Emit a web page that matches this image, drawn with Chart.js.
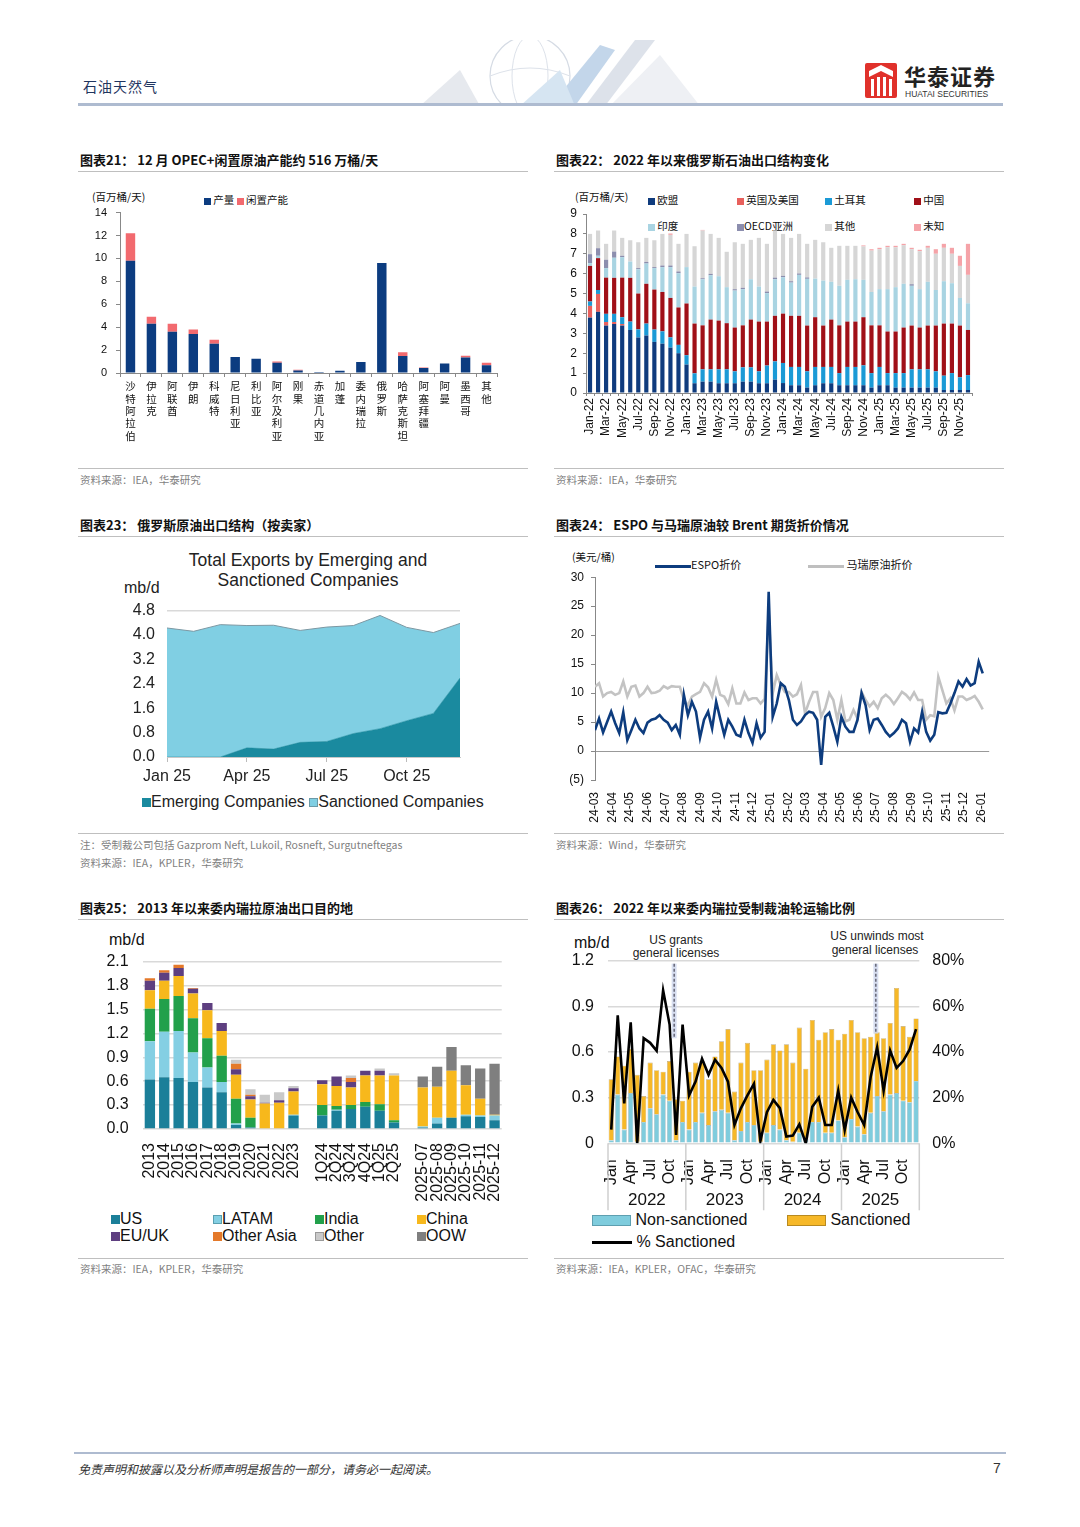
<!DOCTYPE html>
<html><head><meta charset="utf-8">
<script src="https://cdn.jsdelivr.net/npm/chart.js@4.4.1/dist/chart.umd.min.js"></script>
<style>
body{margin:0;background:#fff;}
#page{position:relative;width:1080px;height:1527px;background:#fff;overflow:hidden;font-family:"Liberation Sans",Arial,"Noto Sans CJK SC",sans-serif;}
.tx{position:absolute;white-space:nowrap;line-height:20px;height:20px;}
.ln{position:absolute;}
canvas{position:absolute;}
.sw{display:inline-block;vertical-align:middle;}
</style></head>
<body><div id="page">
<svg style="position:absolute;left:400px;top:40px" width="400" height="66">
  <circle cx="130" cy="36" r="40" fill="none" stroke="#d5dbe4" stroke-width="1.2"/>
  <ellipse cx="130" cy="36" rx="18" ry="40" fill="none" stroke="#dde2ea" stroke-width="1"/>
  <path d="M90 36 Q130 20 170 36" fill="none" stroke="#dde2ea"/>
  <polygon points="20,66 60,30 80,66" fill="#e6e9ee"/>
  <polygon points="150,66 200,5 215,10 175,66" fill="#c3d6ea"/>
  <polygon points="185,66 235,0 255,0 205,66" fill="#dde2ea"/>
  <polygon points="210,66 260,15 300,66" fill="#eef0f4"/>
  <polygon points="120,66 160,30 175,66" fill="#d6e5f2"/>
</svg>
<svg style="position:absolute;left:865px;top:63px" width="32" height="35">
  <rect x="0" y="0" width="32" height="35" rx="2" fill="#E0312B"/>
  <path d="M4 8 L16 2 L28 8 L28 14 L16 8 L4 14Z" fill="#fff"/>
  <rect x="6" y="16" width="3" height="17" fill="#fff"/><rect x="12" y="14" width="3" height="19" fill="#fff"/>
  <rect x="18" y="14" width="3" height="19" fill="#fff"/><rect x="24" y="16" width="3" height="17" fill="#fff"/>
</svg>
</div>
<script>
// ---------------- DATA ----------------
const cats21 = ['沙特阿拉伯','伊拉克','阿联酋','伊朗','科威特','尼日利亚','利比亚','阿尔及利亚','刚果','赤道几内亚','加蓬','委内瑞拉','俄罗斯','哈萨克斯坦','阿塞拜疆','阿曼','墨西哥','其他'];
const prod21 = [9.8,4.3,3.6,3.4,2.55,1.4,1.25,0.9,0.22,0.09,0.2,0.96,9.6,1.48,0.44,0.82,1.35,0.68];
const spare21 = [2.4,0.6,0.7,0.4,0.35,0,0,0.1,0.07,0,0,0,0,0.33,0.03,0,0.15,0.22];
const ticks21 = [0,2,4,6,8,10,12,14];

const monthNames22 = ['Jan','Feb','Mar','Apr','May','Jun','Jul','Aug','Sep','Oct','Nov','Dec'];
const years22 = ['22','23','24','25'];
const eu22 = [3.79,4.08,3.39,3.47,3.39,3.17,2.79,2.89,2.57,2.48,2.28,2.0, 1.43,0.49,0.57,0.57,0.49,0.49,0.49,0.57,0.57,0.49,0.49,0.67, 0.5,0.39,0.39,0.27,0.39,0.49,0.49,0.39,0.39,0.39,0.39,0.27, 0.39,0.39,0.27,0.27,0.27,0.27,0.27,0.27,0.15,0.15,0.15,0.15];
const ukus22 = [0.59,0.9,0.18,0.1,0.08,0,0,0,0,0,0,0, 0,0,0,0,0,0,0,0,0,0,0,0, 0,0,0,0,0,0,0,0,0,0,0,0, 0,0,0,0,0,0,0,0,0,0,0,0];
const tr22 = [0.22,0.2,0.41,0.41,0.34,0.42,0.41,0.6,0.62,0.62,0.52,0.42, 0.47,0.5,0.62,0.62,0.7,0.7,0.6,0.72,0.72,0.6,0.89,0.92, 1.01,0.92,0.92,0.82,0.92,0.82,0.82,0.61,0.92,0.92,1.0,0.73, 0.92,0.61,0.73,0.73,0.92,0.92,0.92,0.82,0.72,0.85,0.64,0.75];
const cn22 = [1.79,1.6,1.82,1.81,1.99,2.2,1.8,2.0,2.01,1.98,1.98,1.88, 2.6,2.5,2.21,2.5,2.45,2.32,2.2,2.11,2.4,2.5,2.21,2.29, 2.48,2.57,2.57,2.3,2.5,2.08,2.38,2.4,2.28,2.28,2.42,2.4, 2.09,2.09,2.09,2.29,2.2,2.1,2.2,2.3,2.62,2.49,2.6,2.27];
const in22 = [0.14,0.12,0.48,1.01,1.03,0.82,1.22,1.02,1.08,1.25,1.55,1.72, 1.83,1.86,2.32,2.23,2.23,1.81,1.86,1.82,2.03,1.76,1.43,1.84, 1.83,1.67,2.06,2.35,1.94,2.26,1.9,1.99,2.1,2.13,1.88,1.68, 1.82,2.13,2.23,2.2,2.0,1.93,2.2,1.79,2.13,2.03,1.39,1.34];
const oecd22 = [0.45,0.38,0.42,0.31,0.07,0,0.06,0.08,0.05,0.08,0.08,0.09, 0,0,0.05,0.07,0,0,0.07,0.07,0,0,0.08,0.08, 0.07,0.07,0.07,0.07,0,0,0,0,0,0,0,0, 0,0,0,0,0.08,0,0,0,0,0,0,0];
const other22 = [1.02,0.89,0.8,1.06,0.9,1.07,1.3,1.21,1.35,1.59,1.54,1.39, 1.67,2.03,2.4,2.01,1.93,1.78,2.36,2.21,1.98,2.45,2.4,2.38, 2.11,2.18,1.99,1.69,1.95,1.93,1.71,2.01,1.71,1.68,1.68,2.08, 2.01,2.11,2.01,1.94,1.76,1.91,1.71,1.82,1.68,1.48,1.61,1.43];
const unk22 = [0,0,0,0,0,0,0,0,0,0,0.07,0, 0,0,0.03,0,0,0,0,0,0,0,0,0, 0,0,0,0,0,0,0,0,0,0,0.05,0.07, 0.07,0.07,0.07,0.07,0.07,0.07,0.1,0.23,0.2,0.3,0.51,1.56];
const ticks22 = [0,1,2,3,4,5,6,7,8,9];

const months23 = ['Jan 25','Feb 25','Mar 25','Apr 25','May 25','Jun 25','Jul 25','Aug 25','Sep 25','Oct 25','Nov 25','Dec 25'];
const emerging23 = [0,0,0,0.3,0.26,0.48,0.51,0.77,0.93,1.19,1.43,2.59];
const sanctioned23 = [4.23,4.12,4.34,4.01,4.06,3.67,3.75,3.54,3.71,3.06,2.65,1.79];
const ticks23 = [0,0.8,1.6,2.4,3.2,4.0,4.8];

const months24 = ['24-03','24-04','24-05','24-06','24-07','24-08','24-09','24-10','24-11','24-12','25-01','25-02','25-03','25-04','25-05','25-06','25-07','25-08','25-09','25-10','25-11','25-12','26-01'];
const espo24 = [3.6,5.6,3.2,5.0,6.8,4.8,3.1,6.7,1.9,3.6,5.4,3.9,3.1,4.9,5.4,5.6,6.2,5.4,4.9,3.6,4.5,2.8,9.7,6.2,8.5,6.8,2.3,5.4,6.8,3.9,8.5,5.6,2.8,5.4,4.2,2.8,2.5,5.4,3.1,1.4,4.8,2.3,3.3,27.5,5.9,8.2,11.7,11.1,8.8,5.4,4.5,5.1,6.2,6.8,6.6,5.4,-2.4,5.9,6.6,4.2,1.6,5.9,4.2,3.3,3.3,5.4,10.0,7.9,3.6,5.4,5.6,4.5,3.3,2.5,3.1,3.9,5.4,4.8,1.6,3.9,3.2,6.8,3.3,1.8,2.8,6.7,6.5,6.6,8.2,10.0,12.0,11.1,12.4,11.3,11.7,15.4,13.4];
const mari24 = [11.1,11.7,9.4,10,10.2,9.7,10,12,9.4,11.1,11.3,9.4,10,11.1,10,10.1,10.4,11.2,10.8,11.2,11.1,11.1,8.8,7.9,9.4,9.8,10.2,11.7,11,9.4,12.3,9.7,9.4,8.1,10.8,8.2,8.2,10.1,8.8,9.1,9.1,8.2,9.0,23.8,10.0,13.1,11.4,10.2,10.2,9.4,9.8,11.4,6.5,8.5,10.2,10.2,5.9,7.4,10,8.8,5.4,8.8,5.1,5.4,7.1,5.6,10.2,8.8,7.7,8.5,7.4,9.1,9.7,9.1,8.1,9.1,10.2,9.7,8.9,10.1,8.8,8.8,5.4,6.2,6.0,12.8,10.5,8.2,9.1,7.0,9.4,9.4,8.8,9.1,9.5,8.5,7.2];
const ticks24 = [-5,0,5,10,15,20,25,30];

const cats25 = ['2013','2014','2015','2016','2017','2018','2019','2020','2021','2022','2023','','1Q24','2Q24','3Q24','4Q24','1Q25','2Q25','','2025-07','2025-08','2025-09','2025-10','2025-11','2025-12'];
const us25 = [0.62,0.65,0.64,0.59,0.52,0.46,0.05,0.02,0.01,0.01,0.17,null,0.17,0.23,0.25,0.28,0.23,0.08,null,0.02,0.07,0.14,0.16,0.15,0.11];
const latam25 = [0.48,0.57,0.59,0.37,0.25,0.13,0.02,0,0,0,0.01,null,0,0.01,0,0,0,0,null,0.01,0.07,0,0.02,0.02,0.06];
const india25 = [0.41,0.41,0.44,0.43,0.37,0.33,0.31,0.12,0,0,0,null,0.13,0.05,0.05,0.06,0.08,0.03,null,0,0,0,0,0,0];
const china25 = [0.23,0.23,0.25,0.31,0.35,0.31,0.30,0.23,0.31,0.32,0.29,null,0.26,0.25,0.22,0.33,0.36,0.56,null,0.49,0.39,0.59,0.37,0.21,0.01];
const euuk25 = [0.12,0.10,0.10,0.06,0.09,0.10,0.07,0.04,0.01,0.03,0.04,null,0.05,0.12,0.07,0.06,0.06,0,null,0,0,0,0,0,0];
const otherAsia25 = [0.03,0.03,0.04,0.01,0,0,0.07,0.02,0,0,0,null,0,0,0.05,0,0,0,null,0,0,0,0,0,0];
const other25 = [0,0,0,0,0,0,0.05,0.07,0.1,0.1,0.03,null,0,0,0.03,0,0.03,0.03,null,0,0,0,0,0,0];
const oow25 = [0,0,0,0,0,0,0,0,0,0,0,null,0,0,0,0,0,0,null,0.14,0.25,0.30,0.25,0.38,0.64];
const ticks25 = [0,0.3,0.6,0.9,1.2,1.5,1.8,2.1];

const years26 = ['2022','2023','2024','2025'];
const monthTicks26 = ['Jan','','','Apr','','','Jul','','','Oct','',''];
const nonsanc26 = [0.02,0.32,0.09,0.33,0.01,0.14,0.23,0.19,0.32,0.28,0.02,0.14, 0.09,0.14,0.2,0.12,0.21,0.22,0.2,0.02,0.08,0.14,0.12,0.01, 0.07,0.12,0.09,0.02,0.01,0.07,0.03,0.14,0.14,0.07,0.07,0.15, 0.04,0.16,0.11,0.06,0.2,0.31,0.21,0.32,0.33,0.28,0.27,0.41];
const sanc26 = [0.40,0.25,0.42,0.29,0.44,0.17,0.30,0.29,0.15,0.26,0.27,0.14, 0.38,0.39,0.34,0.30,0.36,0.45,0.55,0.32,0.45,0.52,0.36,0.47, 0.48,0.53,0.52,0.63,0.52,0.69,0.46,0.67,0.54,0.66,0.68,0.53, 0.68,0.65,0.62,0.63,0.50,0.42,0.48,0.47,0.69,0.49,0.43,0.41];
const pct26 = [6,56,17.5,53,0,46,44,40.5,67,52,3.7,52, 21,27,37,30,36.6,33,27,8,15.4,21,26,1, 13.6,19,15.4,3,3.4,8.3,0,16,20,8,8,23, 5.8,20,13.6,8,29,42,23,40.6,33,36,41,50];
const ticks26 = [0,0.3,0.6,0.9,1.2];
const ticks26r = [0,20,40,60,80];
const events26 = [{at:9.7, top:1.18, bottom:0.69}, {at:40.8, top:1.18, bottom:0.72}];

// ---------------- PAGE TEXT ----------------
const page = document.getElementById('page');
const CJK = '"Noto Sans CJK SC", sans-serif';
const LAT = '"Liberation Sans", Arial, "Noto Sans CJK SC", sans-serif';
function T(x, y, text, st, align){
  const d = document.createElement('div'); d.className='tx'; d.textContent = text;
  d.style.top = (y-10)+'px';
  if(align==='center'){ d.style.left=(x-300)+'px'; d.style.width='600px'; d.style.textAlign='center'; }
  else d.style.left = x+'px';
  Object.assign(d.style, st||{}); page.appendChild(d); return d;
}
function L(x, y, w, h, c){ const d=document.createElement('div'); d.className='ln'; Object.assign(d.style,{left:x+'px',top:y+'px',width:w+'px',height:h+'px',background:c}); page.appendChild(d); }
function H(x, y, html, st){ const d=document.createElement('div'); d.className='tx'; d.innerHTML=html; d.style.left=x+'px'; d.style.top=(y-10)+'px'; Object.assign(d.style, st||{}); page.appendChild(d); return d; }
function box(c, w, h, b){ return '<span class="sw" style="width:'+w+'px;height:'+h+'px;background:'+c+';'+(b?'box-shadow:inset 0 0 0 1px '+b+';':'')+'"></span>'; }

T(83, 86, '石油天然气', {fontFamily:CJK, fontSize:'14px', color:'#1f3560', letterSpacing:'1px'});
T(904, 75, '华泰证券', {fontFamily:CJK, fontSize:'22px', fontWeight:'bold', color:'#222', letterSpacing:'1px'});
T(905, 94, 'HUATAI SECURITIES', {fontFamily:LAT, fontSize:'8.5px', color:'#333'});
L(78, 103, 925, 3, '#aebbd0');

const titleSt = {fontFamily:CJK, fontSize:'13px', fontWeight:'bold', color:'#111'};
const srcSt = {fontFamily:CJK, fontSize:'10.5px', color:'#7f7f7f'};
T(80, 160, '图表21： 12 月 OPEC+闲置原油产能约 516 万桶/天', titleSt);
T(556, 160, '图表22： 2022 年以来俄罗斯石油出口结构变化', titleSt);
L(78, 171, 450, 1, '#bfbfbf'); L(554, 171, 450, 1, '#bfbfbf');
L(78, 468, 450, 1, '#bfbfbf'); L(554, 468, 450, 1, '#bfbfbf');
T(80, 480, '资料来源：IEA，华泰研究', srcSt);
T(556, 480, '资料来源：IEA，华泰研究', srcSt);
T(80, 525, '图表23： 俄罗斯原油出口结构（按卖家）', titleSt);
T(556, 525, '图表24： ESPO 与马瑞原油较 Brent 期货折价情况', titleSt);
L(78, 536, 450, 1, '#bfbfbf'); L(554, 536, 450, 1, '#bfbfbf');
L(78, 833, 450, 1, '#bfbfbf'); L(554, 833, 450, 1, '#bfbfbf');
T(80, 845, '注：受制裁公司包括 Gazprom Neft, Lukoil, Rosneft, Surgutneftegas', srcSt);
T(80, 863, '资料来源：IEA，KPLER，华泰研究', srcSt);
T(556, 845, '资料来源：Wind，华泰研究', srcSt);
T(80, 908, '图表25： 2013 年以来委内瑞拉原油出口目的地', titleSt);
T(556, 908, '图表26： 2022 年以来委内瑞拉受制裁油轮运输比例', titleSt);
L(78, 919, 450, 1, '#bfbfbf'); L(554, 919, 450, 1, '#bfbfbf');
L(78, 1258, 450, 1, '#bfbfbf'); L(554, 1258, 450, 1, '#bfbfbf');
T(80, 1269, '资料来源：IEA，KPLER，华泰研究', srcSt);
T(556, 1269, '资料来源：IEA，KPLER，OFAC，华泰研究', srcSt);
L(74, 1452, 932, 2, '#aebbd0');
T(78, 1469, '免责声明和披露以及分析师声明是报告的一部分，请务必一起阅读。', {fontFamily:CJK, fontSize:'12px', color:'#333', fontStyle:'italic'});
T(993, 1468, '7', {fontFamily:LAT, fontSize:'14px', color:'#333'});

const smallCJK = {fontFamily:CJK, fontSize:'10.5px', color:'#111'};
T(92, 197, '(百万桶/天)', smallCJK);
H(204, 200, box('#0C3C80',7,7)+' 产量 '+box('#F26A6F',7,7)+' 闲置产能', smallCJK);

T(575, 197, '(百万桶/天)', smallCJK);
H(648, 200, box('#0F3B7D',7,7)+' 欧盟', smallCJK);
H(737, 200, box('#E8605C',7,7)+' 英国及美国', smallCJK);
H(825, 200, box('#1B9AD6',7,7)+' 土耳其', smallCJK);
H(914, 200, box('#A01018',7,7)+' 中国', smallCJK);
H(648, 226, box('#A9D4E2',7,7)+' 印度', smallCJK);
H(737, 226, box('#8C8EAE',7,7)+'OECD亚洲', smallCJK);
H(825, 226, box('#D6D6D6',7,7)+' 其他', smallCJK);
H(914, 226, box('#F5A3A8',7,7)+' 未知', smallCJK);

T(308, 560, 'Total Exports by Emerging and', {fontFamily:LAT, fontSize:'17.5px', color:'#222'}, 'center');
T(308, 580, 'Sanctioned Companies', {fontFamily:LAT, fontSize:'17.5px', color:'#222'}, 'center');
T(124, 588, 'mb/d', {fontFamily:LAT, fontSize:'16px', color:'#222'});
H(142, 802, box('#1A8A9F',9,9)+'Emerging Companies '+box('#80CFE3',9,9,'#6a9aa8')+'Sanctioned Companies', {fontFamily:LAT, fontSize:'16px', color:'#222'});

T(572, 557, '(美元/桶)', smallCJK);
H(655, 564, '<span class="sw" style="width:36px;height:3px;background:#0D3C7E"></span>ESPO折价', {fontFamily:CJK, fontSize:'11px', color:'#111'});
H(808, 564, '<span class="sw" style="width:36px;height:3px;background:#BFBFBF"></span> 马瑞原油折价', {fontFamily:CJK, fontSize:'11px', color:'#111'});

T(109, 940, 'mb/d', {fontFamily:LAT, fontSize:'16px', color:'#111'});
const leg25 = {fontFamily:LAT, fontSize:'16px', color:'#111', lineHeight:'20px'};
H(111, 1219, box('#1B7F99',9,9)+'US', leg25);
H(213, 1219, box('#84CFE3',9,9,'#5a9fb0')+'LATAM', leg25);
H(315, 1219, box('#22A04B',9,9)+'India', leg25);
H(417, 1219, box('#F7B81C',9,9)+'China', leg25);
H(111, 1236, box('#5E3F80',9,9)+'EU/UK', leg25);
H(213, 1236, box('#E4792A',9,9)+'Other Asia', leg25);
H(315, 1236, box('#C9C9C9',9,9,'#999')+'Other', leg25);
H(417, 1236, box('#7F7F7F',9,9)+'OOW', leg25);

T(574, 943, 'mb/d', {fontFamily:LAT, fontSize:'16px', color:'#111'});
T(676, 940, 'US grants', {fontFamily:LAT, fontSize:'12px', color:'#222'}, 'center');
T(676, 953, 'general licenses', {fontFamily:LAT, fontSize:'12px', color:'#222'}, 'center');
T(877, 936, 'US unwinds most', {fontFamily:LAT, fontSize:'12px', color:'#222'}, 'center');
T(875, 950, 'general licenses', {fontFamily:LAT, fontSize:'12px', color:'#222'}, 'center');
const leg26 = {fontFamily:LAT, fontSize:'16px', color:'#111'};
H(592, 1220, box('#7FCCDD',39,11,'#5e9fb0')+' Non-sanctioned', leg26);
H(787, 1220, box('#F6B828',39,11,'#b88a20')+' Sanctioned', leg26);
H(592, 1242, '<span class="sw" style="width:40px;height:3px;background:#000"></span> % Sanctioned', leg26);

// ---------------- CHARTS ----------------
Chart.defaults.font.family = LAT;
Chart.defaults.color = '#000';
Chart.defaults.animation = false;
Chart.defaults.plugins.legend.display = false;
Chart.defaults.plugins.tooltip.enabled = false;

function mk(l, t, w, h){
  const c = document.createElement('canvas');
  c.style.left = l+'px'; c.style.top = t+'px'; c.style.width = w+'px'; c.style.height = h+'px';
  c.width = w; c.height = h; page.appendChild(c); return c;
}
const setTicks = arr => (s => { s.ticks = arr.map(v => ({value:v})); });

// Chart 21  (plot top 213, bottom 373)
new Chart(mk(80, 197, 440, 258), {
  type:'bar',
  data:{ labels: cats21.map(s => s.split('')), datasets:[
    {label:'产量', data:prod21, backgroundColor:'#0C3C80', barPercentage:0.45, categoryPercentage:1},
    {label:'闲置产能', data:spare21, backgroundColor:'#F26A6F', barPercentage:0.45, categoryPercentage:1}
  ]},
  options:{ responsive:false, layout:{padding:{top:0, right:23, left:0, bottom:0}},
    scales:{
      x:{ stacked:true, afterFit:s=>{s.height=82;}, grid:{drawOnChartArea:false, tickLength:4, color:'#888'}, border:{color:'#888'},
          ticks:{autoSkip:false, maxRotation:0, minRotation:0, padding:3, color:'#111', font:{family:CJK, size:10.5, lineHeight:1.18}}},
      y:{ stacked:true, min:0, max:14, afterBuildTicks:setTicks(ticks21), afterFit:s=>{s.width=40;},
          grid:{drawOnChartArea:false, tickLength:4, color:'#888'}, border:{color:'#888'},
          ticks:{padding:9, font:{size:11}, color:'#111'}}
    }}
});

// Chart 22  (plot top 214, bottom 393)
const labels22 = [];
years22.forEach(y => monthNames22.forEach(m => labels22.push(m+'-'+y)));
const ds22 = [
  ['欧盟', eu22, '#0F3B7D'], ['英国及美国', ukus22, '#E8605C'], ['土耳其', tr22, '#1B9AD6'], ['中国', cn22, '#A01018'],
  ['印度', in22, '#A9D4E2'], ['OECD亚洲', oecd22, '#8C8EAE'], ['其他', other22, '#D6D6D6'], ['未知', unk22, '#F5A3A8']
].map(d => ({label:d[0], data:d[1], backgroundColor:d[2], barPercentage:0.52, categoryPercentage:1}));
new Chart(mk(555, 200, 440, 250), {
  type:'bar',
  data:{labels:labels22, datasets:ds22},
  options:{ responsive:false, layout:{padding:{top:14, right:23}},
    scales:{
      x:{ stacked:true, afterFit:s=>{s.height=57;}, grid:{drawOnChartArea:false, tickLength:3, color:'#888'}, border:{color:'#888'},
          ticks:{autoSkip:false, minRotation:90, maxRotation:90, padding:2, color:'#111', font:{size:12},
                 callback:(v,i)=> i%2===0 ? labels22[i] : ''}},
      y:{ stacked:true, min:0, max:9, afterBuildTicks:setTicks(ticks22), afterFit:s=>{s.width=31;},
          grid:{drawOnChartArea:false, tickLength:3, color:'#888'}, border:{color:'#888'},
          ticks:{padding:6, font:{size:12}, color:'#111'}}
    }}
});

// Chart 23  (plot top 611, bottom 757)
new Chart(mk(80, 589, 450, 201), {
  type:'line',
  data:{labels:months23, datasets:[
    {label:'Emerging Companies', data:emerging23, fill:'origin', backgroundColor:'#1A8A9F', borderColor:'#1A8A9F', borderWidth:0.5, pointRadius:0},
    {label:'Sanctioned Companies', data:sanctioned23, fill:'-1', backgroundColor:'#80CFE3', borderColor:'#7d98a3', borderWidth:1, pointRadius:0}
  ]},
  options:{ responsive:false, layout:{padding:{top:0, right:70}},
    scales:{
      x:{ offset:false, afterFit:s=>{s.height=33;}, border:{color:'#c8c8c8'},
          grid:{drawOnChartArea:false, tickLength:5, color:c=> (c.index%3===0 ? '#bbbbbb' : 'rgba(0,0,0,0)')},
          ticks:{autoSkip:false, maxRotation:0, minRotation:0, padding:5, color:'#222', font:{size:16},
                 callback:(v,i)=> i%3===0 ? months23[i] : ''}},
      y:{ stacked:true, min:0, max:4.8, afterBuildTicks:setTicks(ticks23), afterFit:s=>{s.width=87;},
          border:{display:false},
          grid:{drawTicks:false, color:c=> (c.tick && c.tick.value>4.7 ? '#d9d9d9' : 'rgba(0,0,0,0)'), lineWidth:1.5},
          ticks:{padding:12, color:'#222', font:{size:16}, callback:v=>v.toFixed(1)}}
    }}
});

// Chart 24  (plot top 577, bottom 780)
new Chart(mk(560, 563, 440, 267), {
  type:'line',
  data:{ datasets:[
    {label:'ESPO折价', data:espo24.map((v,i)=>({x:i, y:v})), borderColor:'#0D3C7E', borderWidth:2.6, pointRadius:0, tension:0},
    {label:'马瑞原油折价', data:mari24.map((v,i)=>({x:i, y:v})), borderColor:'#C3C3C3', borderWidth:2.6, pointRadius:0, tension:0}
  ]},
  options:{ responsive:false, layout:{padding:{top:0, right:4}},
    scales:{
      x:{ type:'linear', min:0, max:97.6, afterFit:s=>{s.height=50;},
          afterBuildTicks:s=>{ s.ticks = months24.map((m,i)=>({value:i*4.35})); },
          grid:{display:false}, border:{display:false},
          ticks:{autoSkip:false, minRotation:90, maxRotation:90, padding:4, color:'#111', font:{size:12},
                 callback:(v,i)=> months24[i]}},
      y:{ min:-5, max:30, afterBuildTicks:setTicks(ticks24), afterFit:s=>{s.width=35;},
          border:{color:'#888'},
          grid:{tickLength:4, color:c=> (c.tick && c.tick.value===0 ? '#999' : 'rgba(0,0,0,0)'), tickColor:'#888'},
          ticks:{padding:7, color:'#111', font:{size:12}, callback:v=> v<0 ? '('+(-v)+')' : String(v)}}
    }}
});

// Chart 25  (plot top 962, bottom 1129)
const ds25 = [
  ['US', us25, '#1B7F99'], ['LATAM', latam25, '#84CFE3'], ['India', india25, '#22A04B'], ['China', china25, '#F7B81C'],
  ['EU/UK', euuk25, '#5E3F80'], ['Other Asia', otherAsia25, '#E4792A'], ['Other', other25, '#C9C9C9'], ['OOW', oow25, '#7F7F7F']
].map(d => ({label:d[0], data:d[1], backgroundColor:d[2], barPercentage:0.72, categoryPercentage:1}));
new Chart(mk(90, 938, 430, 268), {
  type:'bar',
  data:{labels:cats25, datasets:ds25},
  options:{ responsive:false, layout:{padding:{top:0, right:12}},
    scales:{
      x:{ stacked:true, afterFit:s=>{s.height=77;}, grid:{display:false}, border:{display:false},
          ticks:{autoSkip:false, minRotation:90, maxRotation:90, padding:6, color:'#111', font:{size:16}}},
      y:{ stacked:true, min:0, max:2.1, afterBuildTicks:setTicks(ticks25), afterFit:s=>{s.width=52.7;},
          border:{display:false}, grid:{drawTicks:false, color:'#d9d9d9', lineWidth:1.5},
          ticks:{padding:14, color:'#111', font:{size:16}, callback:v=>v.toFixed(1)}}
    }}
});

// Chart 26  (plot top 961, bottom 1143)
const labels26 = [];
years26.forEach(() => monthTicks26.forEach(m => labels26.push(m)));
const plugin26 = {
  id:'p26',
  afterDatasetsDraw(ch){
    const ctx = ch.ctx, x = ch.scales.x, y = ch.scales.y;
    ctx.save();
    events26.forEach(e => {
      const px = x.getPixelForValue(e.at), t = y.getPixelForValue(e.top), b = y.getPixelForValue(e.bottom);
      ctx.fillStyle = 'rgba(205,214,236,0.8)'; ctx.fillRect(px-2.5, t, 5, b-t);
      ctx.strokeStyle = '#4a4a5a'; ctx.lineWidth = 1.2; ctx.setLineDash([3,2]);
      ctx.beginPath(); ctx.moveTo(px, t); ctx.lineTo(px, b); ctx.stroke();
    });
    ctx.restore();
  },
  afterDraw(ch){
    const ctx = ch.ctx, x = ch.scales.x, bottom = ch.chartArea.bottom;
    ctx.save();
    ctx.strokeStyle = '#cfcfcf'; ctx.lineWidth = 1.5; ctx.setLineDash([]);
    for (let k = 0; k <= years26.length; k++){
      const px = x.getPixelForValue(k*12 - 0.5);
      ctx.beginPath(); ctx.moveTo(px, bottom); ctx.lineTo(px, bottom+67); ctx.stroke();
    }
    ctx.fillStyle = '#111'; ctx.font = '17px ' + LAT; ctx.textAlign = 'center'; ctx.textBaseline = 'middle';
    years26.forEach((yr, k) => ctx.fillText(yr, x.getPixelForValue(k*12 + 5.5), bottom + 57));
    ctx.restore();
  }
};
new Chart(mk(560, 937, 420, 278), {
  data:{labels:labels26, datasets:[
    {type:'line', label:'% Sanctioned', data:pct26, yAxisID:'y1', borderColor:'#000', borderWidth:2.6, pointRadius:0, tension:0, order:0},
    {type:'bar', label:'Non-sanctioned', data:nonsanc26, yAxisID:'y', backgroundColor:'#7FCCDD', borderColor:'rgba(90,120,130,0.6)', borderWidth:0.6, barPercentage:0.8, categoryPercentage:1, order:1},
    {type:'bar', label:'Sanctioned', data:sanc26, yAxisID:'y', backgroundColor:'#F6B828', borderColor:'rgba(140,110,40,0.6)', borderWidth:0.6, barPercentage:0.8, categoryPercentage:1, order:1}
  ]},
  options:{ responsive:false, layout:{padding:{top:0}},
    scales:{
      x:{ stacked:true, afterFit:s=>{s.height=71.7;}, grid:{display:false}, border:{display:false},
          ticks:{autoSkip:false, minRotation:90, maxRotation:90, padding:8, color:'#111', font:{size:16}}},
      y:{ stacked:true, position:'left', min:0, max:1.2, afterBuildTicks:setTicks(ticks26), afterFit:s=>{s.width=48;},
          border:{display:false}, grid:{drawTicks:false, color:'#d9d9d9', lineWidth:1.5},
          ticks:{padding:14, color:'#111', font:{size:16}, callback:v=> v===0 ? '0' : v.toFixed(1)}},
      y1:{ position:'right', min:0, max:80, afterBuildTicks:setTicks(ticks26r), afterFit:s=>{s.width=60.7;},
          border:{display:false}, grid:{display:false, drawTicks:false},
          ticks:{padding:13, color:'#111', font:{size:16}, callback:v=> v+'%'}}
    }},
  plugins:[plugin26]
});
</script>
</body></html>
